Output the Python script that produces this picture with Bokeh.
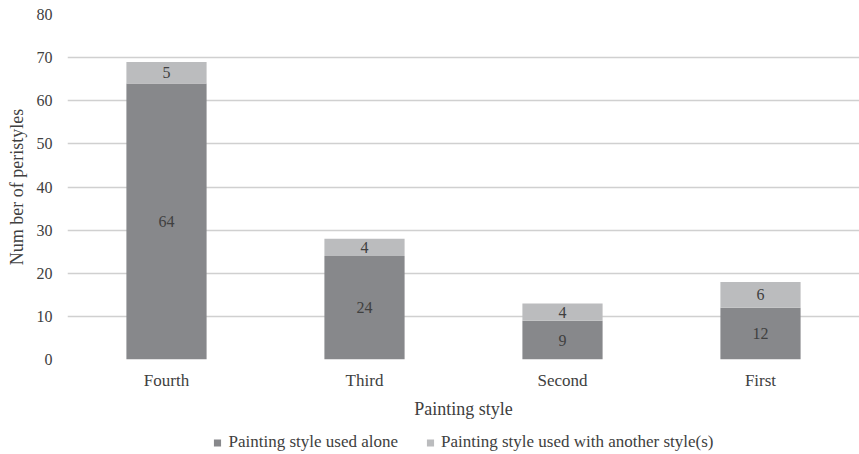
from bokeh.plotting import figure
from bokeh.layouts import column
from bokeh.models import ColumnDataSource, Legend, LegendItem, FixedTicker, Range1d
from bokeh.core.properties import value
from bokeh.embed import file_html
from bokeh.resources import INLINE

# Peristyles by painting style
styles = ["Fourth", "Third", "Second", "First"]
used_alone = [64, 24, 9, 12]
used_with_other = [5, 4, 4, 6]
y_ticks = [0, 10, 20, 30, 40, 50, 60, 70, 80]
series_names = ["Painting style used alone", "Painting style used with another style(s)"]

DARK = "#87888b"
LIGHT = "#bbbcbe"
TEXT = "#404040"
FONT = "Liberation Serif"

xs = [i + 0.5 for i in range(len(styles))]
tops = [a + b for a, b in zip(used_alone, used_with_other)]
src = ColumnDataSource(dict(
    x=xs,
    alone=used_alone,
    other=used_with_other,
    top=tops,
    alone_mid=[a / 2 for a in used_alone],
    other_mid=[a + b / 2 for a, b in zip(used_alone, used_with_other)],
    alone_lbl=[str(v) for v in used_alone],
    other_lbl=[str(v) for v in used_with_other],
))

p = figure(frame_width=792, frame_height=345, output_backend="svg", toolbar_location=None,
           x_range=Range1d(0, len(styles)), y_range=Range1d(0, 80),
           min_border_left=67, min_border_right=0, min_border_top=14,
           min_border_bottom=71)
p.outline_line_color = None
p.background_fill_color = "white"

p.vbar(x="x", width=0.405, bottom=0, top="alone", source=src,
       fill_color=DARK, line_color=None)
p.vbar(x="x", width=0.405, bottom="alone", top="top", source=src,
       fill_color=LIGHT, line_color=None)

p.text(x="x", y="alone_mid", text="alone_lbl", source=src,
       text_align="center", text_baseline="middle",
       text_font=value(FONT), text_font_size="16px", text_color=TEXT)
p.text(x="x", y="other_mid", text="other_lbl", source=src,
       text_align="center", text_baseline="middle",
       text_font=value(FONT), text_font_size="16px", text_color=TEXT)

# axes
p.xaxis.ticker = FixedTicker(ticks=xs)
p.xaxis.major_label_overrides = {x: s for x, s in zip(xs, styles)}
p.yaxis.ticker = FixedTicker(ticks=y_ticks)
for ax in (p.xaxis[0], p.yaxis[0]):
    ax.axis_line_color = None
    ax.major_tick_line_color = None
    ax.minor_tick_line_color = None
    ax.major_label_text_font = FONT
    ax.major_label_text_color = TEXT
    ax.axis_label_text_font = FONT
    ax.axis_label_text_font_size = "18px"
    ax.axis_label_text_color = TEXT
    ax.axis_label_text_font_style = "normal"
p.xaxis.major_label_text_font_size = "17px"
p.yaxis.major_label_text_font_size = "16px"
p.xaxis.axis_label = "Painting style"
p.yaxis.axis_label = "Num ber of peristyles"
p.xaxis.major_label_standoff = 5
p.xaxis.axis_label_standoff = 6
p.yaxis.major_label_standoff = 9
p.yaxis.axis_label_standoff = 7

p.xgrid.grid_line_color = None
p.ygrid.ticker = FixedTicker(ticks=y_ticks)
p.ygrid.grid_line_color = "#d0d0d0"
p.ygrid.grid_line_width = 1.5

# legend strip under the chart; swatch renderers sit outside the visible range
lg = figure(width=859, height=24, output_backend="svg", toolbar_location=None,
            x_range=Range1d(0, 1), y_range=Range1d(0, 1),
            x_axis_type=None, y_axis_type=None, min_border=0)
lg.outline_line_color = None
lg.grid.visible = False
swatch_alone = lg.vbar(x=[10], top=[1], width=0.1, fill_color=DARK, line_color=None)
swatch_other = lg.vbar(x=[12], top=[1], width=0.1, fill_color=LIGHT, line_color=None)

legend = Legend(items=[
    LegendItem(label=series_names[0], renderers=[swatch_alone]),
    LegendItem(label=series_names[1], renderers=[swatch_other]),
], orientation="horizontal", location="center")
legend.label_text_font = FONT
legend.label_text_font_size = "17px"
legend.label_text_color = TEXT
legend.label_height = 16
legend.glyph_width = 9
legend.glyph_height = 9
legend.label_standoff = 7
legend.spacing = 27
legend.border_line_color = None
legend.background_fill_alpha = 0
legend.padding = 0
legend.margin = 0
lg.add_layout(legend, "center")

layout = column(p, lg, spacing=0)
open("out.html", "w").write(file_html(layout, INLINE))
